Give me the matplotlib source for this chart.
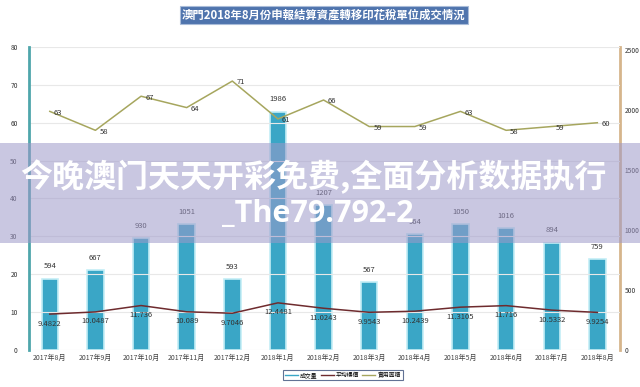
import numpy as np
import matplotlib.pyplot as plt
from matplotlib.lines import Line2D
from matplotlib.patches import Rectangle

plt.rcParams['font.family'] = ['Noto Sans CJK TC', 'DejaVu Sans']

# 數據
meses = ["2017年8月", "2017年9月", "2017年10月", "2017年11月", "2017年12月",
         "2018年1月", "2018年2月", "2018年3月", "2018年4月", "2018年5月",
         "2018年6月", "2018年7月", "2018年8月"]
volume = [594, 667, 930, 1051, 593, 1986, 1207, 567, 964, 1050, 1016, 894, 759]
preco_medio = [9.4822, 10.0487, 11.736, 10.089, 9.7046, 12.4481, 11.0243,
               9.9543, 10.2439, 11.3105, 11.716, 10.5332, 9.9254]
area_util = [63, 58, 67, 64, 71, 61, 66, 59, 59, 63, 58, 59, 60]

cor_barra = "#3aa6c6"
cor_preco = "#6e2b2e"
cor_area = "#a6a65e"

fig = plt.figure(figsize=(6.4, 3.87), dpi=100)
ax = fig.add_axes([0.045, 0.0956, 0.924, 0.783])
ax2 = ax.twinx()

x = np.arange(len(meses))

# barras no eixo direito
ax2.bar(x, volume, width=0.36, color=cor_barra, edgecolor="#c4eef6",
        linewidth=1.2, zorder=2)
for xi, v in zip(x, volume):
    ax2.annotate(str(v), (xi, v), xytext=(0, 6), textcoords="offset points",
                 ha="center", va="bottom", fontsize=5.5, color="#333333")
ax2.set_ylim(0, 2525)
ax2.set_yticks(range(0, 2501, 500))

# linhas no eixo esquerdo
ax.set_zorder(ax2.get_zorder() + 1)
ax.patch.set_visible(False)
ax.plot(x, preco_medio, color=cor_preco, lw=1.1, zorder=3)
for xi, v in zip(x, preco_medio):
    ax.annotate(f"{v:g}", (xi, v), xytext=(0, -4), textcoords="offset points",
                ha="center", va="top", fontsize=5.5, color="#333333")
ax.plot(x, area_util, color=cor_area, lw=1.1, zorder=3)
for xi, v in zip(x, area_util):
    ax.annotate(str(v), (xi, v), xytext=(3, -1), textcoords="offset points",
                ha="left", va="center", fontsize=5.5, color="#333333")

ax.set_ylim(0, 80)
ax.set_yticks(range(0, 81, 10))
ax.set_xlim(-0.46, 12.5)
ax.set_xticks(x)
ax.set_xticklabels(meses, fontsize=5, color="#444444")
ax.grid(axis="y", color="#e8e8e8", lw=0.8)
ax2.grid(False)

ax.tick_params(axis="y", labelsize=4.8, length=0, colors="#333333", pad=8)
ax2.tick_params(axis="y", labelsize=4.8, length=0, colors="#333333", pad=3)
for a in (ax, ax2):
    a.tick_params(axis="x", length=0, pad=3)
    for s in ("top", "bottom"):
        a.spines[s].set_visible(False)
ax.spines["right"].set_visible(False)
ax2.spines["left"].set_visible(False)
ax.spines["left"].set_color("#4fa6ab")
ax.spines["left"].set_linewidth(2)
ax2.spines["right"].set_color("#d6b58c")
ax2.spines["right"].set_linewidth(2)

# legenda
handles = [Line2D([], [], color=cor_barra, lw=1),
           Line2D([], [], color=cor_preco, lw=1),
           Line2D([], [], color=cor_area, lw=1)]
leg = fig.legend(handles, ["成交量", "平均樓價", "實用面積"], loc="center",
                 bbox_to_anchor=(0.536, 0.031), ncol=3, fontsize=4.2,
                 frameon=True, handlelength=2.2, columnspacing=0.5,
                 handletextpad=0.4, borderpad=0.35, fancybox=False)
leg.get_frame().set_edgecolor("#3b4f7a")
leg.get_frame().set_linewidth(0.8)

# título
fig.text(0.506, 0.961, "澳門2018年8月份申報結算資產轉移印花稅單位成交情況",
         ha="center", va="center", fontsize=8.2, fontweight="bold", color="white",
         bbox=dict(boxstyle="square,pad=0.22", facecolor="#4f74ad",
                   edgecolor="#a9bcd9", lw=0.8))

# faixa sobreposta
fig.patches.append(Rectangle((0, 0.372), 1, 0.258, transform=fig.transFigure,
                             facecolor=(0.62, 0.6, 0.79), alpha=0.55,
                             edgecolor="none", zorder=10))
fig.text(0.49, 0.542, "今晚澳门天天开彩免费,全面分析数据执行", ha="center",
         va="center", fontsize=23, fontweight="bold", color="white",
         family=["Noto Sans CJK SC", "DejaVu Sans"], zorder=11)
fig.text(0.496, 0.446, "_The79.792-2", ha="center", va="center", fontsize=22,
         fontweight="bold", color="white",
         family=["Open Sans", "DejaVu Sans"], zorder=11)

fig.savefig("out.png", dpi=100, facecolor="white")
